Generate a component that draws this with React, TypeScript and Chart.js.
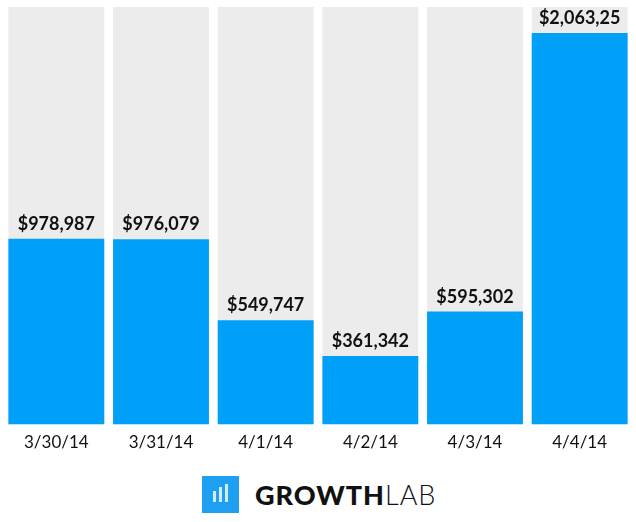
import React, { useEffect, useRef } from "react";
import { Chart, registerables } from "chart.js";

Chart.register(...registerables);

const categories = ["3/30/14", "3/31/14", "4/1/14", "4/2/14", "4/3/14", "4/4/14"];
const revenue = [978987, 976079, 549747, 361342, 595302, 2063250];
const valueLabels = ["$978,987", "$976,079", "$549,747", "$361,342", "$595,302", "$2,063,25"];
const axisMax = 2200000;
const backdrop = categories.map(() => axisMax);

const BLUE = "#00a0f8";
const GRAY = "#ececec";

const labelPlugin = {
  id: "valueLabels",
  afterDatasetsDraw(chart: any) {
    const meta = chart.getDatasetMeta(0);
    const ctx = chart.ctx;
    ctx.save();
    ctx.font = "bold 18px Lato";
    ctx.fillStyle = "#111";
    ctx.textAlign = "center";
    ctx.textBaseline = "alphabetic";
    meta.data.forEach((el: any, i: number) => {
      ctx.fillText(valueLabels[i], el.x, el.y - 9);
    });
    ctx.restore();
  },
};

export default function App() {
  const ref = useRef<HTMLCanvasElement>(null);
  useEffect(() => {
    const chart = new Chart(ref.current!, {
      type: "bar",
      data: {
        labels: categories,
        datasets: [
          {
            data: revenue,
            backgroundColor: BLUE,
            grouped: false,
            order: 0,
            categoryPercentage: 0.916,
            barPercentage: 1,
          },
          {
            data: backdrop,
            backgroundColor: GRAY,
            grouped: false,
            order: 1,
            categoryPercentage: 0.916,
            barPercentage: 1,
          },
        ],
      },
      options: {
        animation: false,
        responsive: false,
        maintainAspectRatio: false,
        layout: { padding: { top: 7, left: 4, right: 4, bottom: 0 } },
        plugins: { legend: { display: false }, tooltip: { enabled: false } },
        scales: {
          y: { display: false, min: 0, max: axisMax },
          x: {
            grid: { display: false },
            border: { display: false },
            ticks: { color: "#111", font: { family: "Lato", size: 17 }, padding: 0 },
          },
        },
      },
      plugins: [labelPlugin],
    });
    return () => chart.destroy();
  }, []);

  return (
    <div style={{ position: "absolute", left: 0, top: 0, width: 636, height: 522, background: "#fff" }}>
      <canvas ref={ref} width={636} height={453} style={{ display: "block" }} />
      <div style={{ position: "absolute", left: 202, top: 476, display: "flex", alignItems: "center" }}>
        <div
          style={{
            width: 37,
            height: 37,
            background: "#1e9ff2",
            position: "relative",
          }}
        >
          <div style={{ position: "absolute", left: 11, top: 15, width: 3, height: 11, background: "#fff", opacity: 0.8 }} />
          <div style={{ position: "absolute", left: 17, top: 11, width: 3, height: 15, background: "#fff", opacity: 0.8 }} />
          <div style={{ position: "absolute", left: 23, top: 8, width: 3, height: 18, background: "#fff", opacity: 0.8 }} />
        </div>
        <div style={{ marginLeft: 16, fontFamily: "Lato", fontSize: 27, letterSpacing: 1, color: "#111", lineHeight: "37px" }}>
          <span style={{ fontWeight: 900 }}>GROWTH</span>
          <span style={{ fontWeight: 300 }}>LAB</span>
        </div>
      </div>
    </div>
  );
}
